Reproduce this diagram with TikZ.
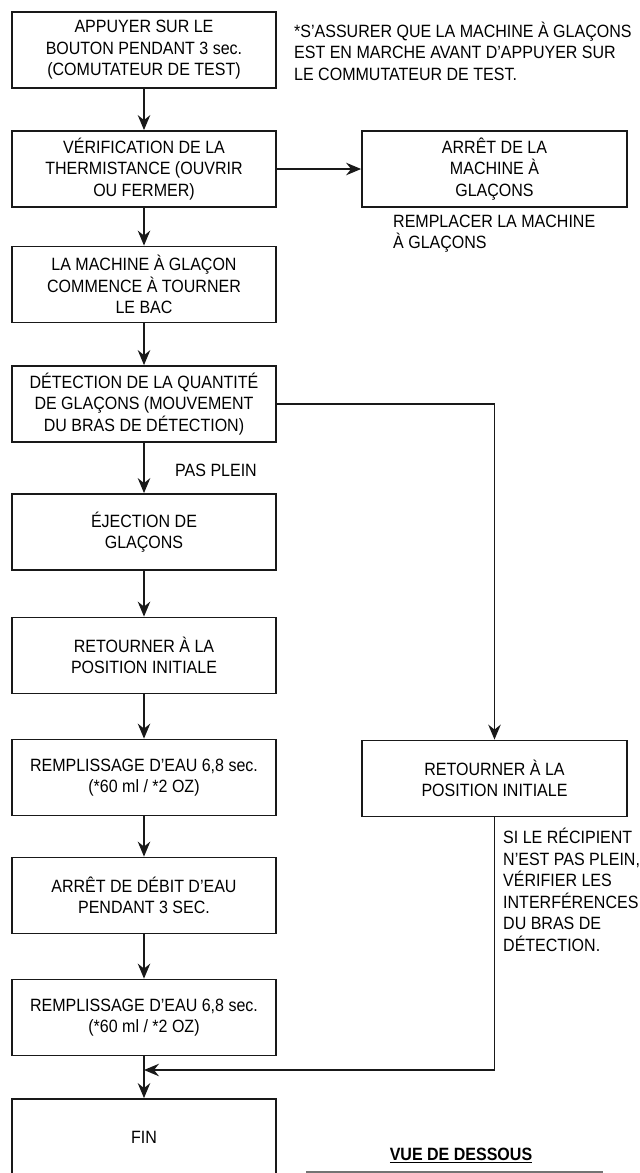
\documentclass[tikz,border=0pt]{standalone}
\usepackage{fontspec}
\setmainfont{Liberation Sans}[FakeStretch=0.9]
\usetikzlibrary{arrows.meta}

\newcommand{\flowfont}{\fontsize{17.8}{21.5}\selectfont}

\begin{document}
\begin{tikzpicture}[
    x=1pt,
    y=-1pt,
    process/.style={draw=black!90,line width=1.8pt,minimum width=264pt,minimum height=76pt,inner sep=0pt,align=center,font=\flowfont},
    flow/.style={-{Stealth[length=15pt,width=12.5pt,inset=5pt]},line width=1.6pt,draw=black!90},
    remark/.style={anchor=west,align=left,inner sep=0pt,font=\flowfont}
]

% Page frame (the last box runs off the bottom edge).
\clip (0,0) rectangle (640,1173);

% Main sequence.
\node[process] (push) at (144,50) {APPUYER SUR LE\\BOUTON PENDANT 3 sec.\\(COMUTATEUR DE TEST)};
\node[process] (thermo) at (144,169) {VÉRIFICATION DE LA\\THERMISTANCE (OUVRIR\\OU FERMER)};
\node[process] (turn) at (144,284.5) {LA MACHINE À GLAÇON\\COMMENCE À TOURNER\\LE BAC};
\node[process] (detect) at (144,404) {DÉTECTION DE LA QUANTITÉ\\DE GLAÇONS (MOUVEMENT\\DU BRAS DE DÉTECTION)};
\node[process] (eject) at (144,532) {ÉJECTION DE\\GLAÇONS};
\node[process] (home) at (144,655.5) {RETOURNER À LA\\POSITION INITIALE};
\node[process] (fillA) at (144,777.5) {REMPLISSAGE D’EAU 6,8 sec.\\(*60 ml / *2 OZ)};
\node[process] (pause) at (144,895.5) {ARRÊT DE DÉBIT D’EAU\\PENDANT 3 SEC.};
\node[process] (fillB) at (144,1017.5) {REMPLISSAGE D’EAU 6,8 sec.\\(*60 ml / *2 OZ)};
\node[process] (finish) at (144,1137) {FIN};

% Side branches.
\node[process,minimum width=265pt] (stop) at (494.5,169) {ARRÊT DE LA\\MACHINE À\\GLAÇONS};
\node[process,minimum width=265pt] (rhome) at (494.5,778.5) {RETOURNER À LA\\POSITION INITIALE};

% Remarks.
\node[remark] (check) at (294,51) {*S’ASSURER QUE LA MACHINE À GLAÇONS\\EST EN MARCHE AVANT D’APPUYER SUR\\LE COMMUTATEUR DE TEST.};
\node[remark] (replace) at (393,233.5) {REMPLACER LA MACHINE\\À GLAÇONS};
\node[remark] (notfull) at (175,470) {PAS PLEIN};
\node[remark] (hint) at (503,890) {SI LE RÉCIPIENT\\N’EST PAS PLEIN,\\VÉRIFIER LES\\INTERFÉRENCES\\DU BRAS DE\\DÉTECTION.};
\node[font=\flowfont\bfseries] (view) at (461,1155) {\underline{VUE DE DESSOUS}};

% Bottom view frame, cut by the page edge.
\draw[black!55,line width=2.5pt] (307,1172) rectangle (602,1240);

% Connectors.
\draw[flow] (push) -- (thermo);
\draw[flow] (thermo) -- (stop);
\draw[flow] (thermo) -- (turn);
\draw[flow] (turn) -- (detect);
\draw[flow] (detect) -- (eject);
\draw[flow] (eject) -- (home);
\draw[flow] (home) -- (fillA);
\draw[flow] (fillA) -- (pause);
\draw[flow] (pause) -- (fillB);
\draw[flow] (fillB) -- (finish);
\draw[flow] (detect.east) -| (rhome.north);
\coordinate (join) at (144,1070);
\draw[flow] (rhome.south) |- (join);

\end{tikzpicture}
\end{document}
